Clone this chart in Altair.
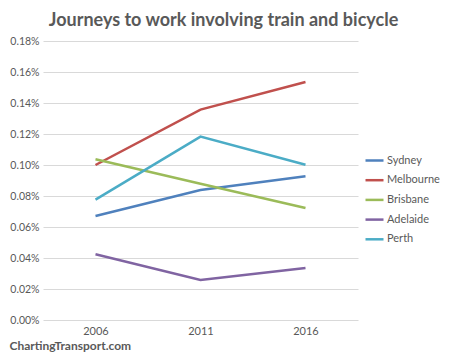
import altair as alt
import pandas as pd

years = ["2006", "2011", "2016"]
cities = ["Sydney", "Melbourne", "Brisbane", "Adelaide", "Perth"]
sydney = [0.000671, 0.000839, 0.000927]
melbourne = [0.001000, 0.001357, 0.001536]
brisbane = [0.001037, 0.000879, 0.000722]
adelaide = [0.000424, 0.000258, 0.000335]
perth = [0.000777, 0.001183, 0.001002]
colors = ["#4F81BD", "#C0504D", "#9BBB59", "#8064A2", "#4BACC6"]
y_ticks = [0, 0.0002, 0.0004, 0.0006, 0.0008, 0.0010, 0.0012, 0.0014, 0.0016, 0.0018]

series = [sydney, melbourne, brisbane, adelaide, perth]
rows = []
for city, vals in zip(cities, series):
    for yr, v in zip(years, vals):
        rows.append({"Year": yr, "City": city, "Share": v})
df = pd.DataFrame(rows)

FONT = "Lato"
GREY = "#595959"

chart = alt.Chart(df).mark_line(strokeWidth=2.5).encode(
    x=alt.X("Year:O", sort=years,
            scale=alt.Scale(type="point", padding=0.5),
            axis=alt.Axis(title="ChartingTransport.com", titleX=-34, titleY=20,
                          titleAnchor="start", titleAlign="left", titleBaseline="top",
                          titleFont=FONT, titleFontSize=12, titleFontWeight="bold",
                          titleColor=GREY, labelAngle=0, ticks=False, domain=False,
                          labelPadding=5, labelFont=FONT, labelFontSize=11,
                          labelColor=GREY)),
    y=alt.Y("Share:Q", scale=alt.Scale(domain=[0, 0.0018], nice=False),
            axis=alt.Axis(title=None, values=y_ticks, format=".2%", ticks=False,
                          domain=False, labelPadding=4, labelFont=FONT,
                          labelFontSize=10.5, labelColor=GREY,
                          gridColor="#D9D9D9", gridWidth=1)),
    color=alt.Color("City:N", sort=cities,
                    scale=alt.Scale(domain=cities, range=colors),
                    legend=alt.Legend(title=None, orient="none", legendX=321,
                                      legendY=109, symbolType="stroke",
                                      symbolSize=324, symbolStrokeWidth=2.5,
                                      rowPadding=3.7, labelOffset=2,
                                      labelFont=FONT, labelFontSize=11,
                                      labelColor=GREY)),
).properties(
    width=315, height=279,
    title=alt.TitleParams("Journeys to work involving train and bicycle",
                          font=FONT, fontSize=18, fontWeight="bold",
                          color=GREY, anchor="middle", dx=23, offset=6),
    autosize=alt.AutoSizeParams(type="none"),
    padding={"left": 35, "top": 33, "right": 83, "bottom": 35},
).configure_view(stroke=None)

chart.save("out.html", embed_options={"renderer": "svg", "actions": False})
